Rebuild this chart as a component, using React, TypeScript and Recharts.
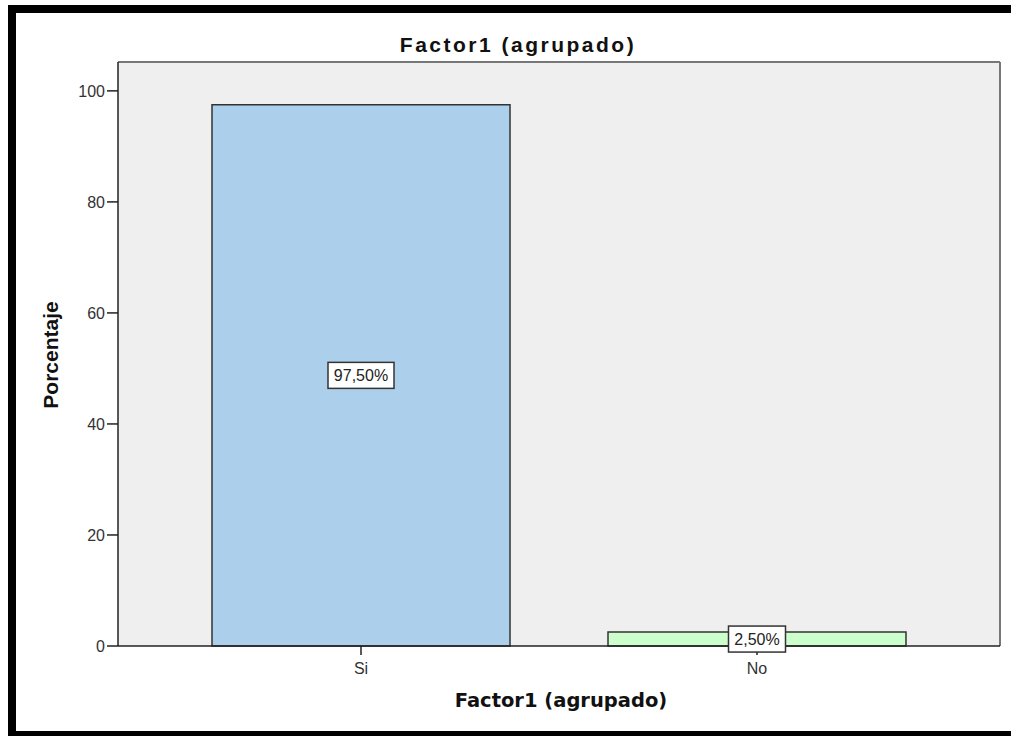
import { Bar, BarChart, CartesianGrid, Cell, LabelList, XAxis, YAxis } from "recharts"

const categories = ["Si", "No"]
const percentages = [97.5, 2.5]
const valueLabels = ["97,50%", "2,50%"]
const yTicks = [0, 20, 40, 60, 80, 100]

const data = categories.map((name, i) => ({
    name,
    value: percentages[i],
    label: valueLabels[i],
}))

const barFills = ["#accfec", "#ccffcc"]
const font = "'Liberation Sans', Arial, sans-serif"

const BoxLabel = (props: any) => {
    const { x, y, width, height, index } = props
    const text = valueLabels[index]
    const w = text.length * 9 + 12
    const h = 26
    const cx = x + width / 2
    const cy = y + height / 2
    return (
        <g>
            <rect x={cx - w / 2} y={cy - h / 2} width={w} height={h} fill="#fff" stroke="#333" strokeWidth={1.5} />
            <text x={cx} y={cy + 6} textAnchor="middle" fontFamily={font} fontSize={16} fill="#222">
                {text}
            </text>
        </g>
    )
}

const App = () => {
    return (
        <div style={{ position: "absolute", left: 0, top: 0, width: 1011, height: 736, background: "#fff" }}>
            <BarChart width={1011} height={736} data={data} margin={{ top: 62, right: 11, bottom: 50, left: 0 }}>
                <CartesianGrid horizontal={false} vertical={false} fill="#efefef" />
                {/* plot frame: top and right edges */}
                <CartesianGrid
                    stroke="#777"
                    strokeWidth={2}
                    horizontalCoordinatesGenerator={({ offset }: any) => [offset.top]}
                    verticalCoordinatesGenerator={({ offset }: any) => [offset.left + offset.width]}
                />
                <XAxis
                    dataKey="name"
                    height={40}
                    padding={{ left: 45, right: 45 }}
                    tickSize={9}
                    tickMargin={8}
                    tick={{ fontFamily: font, fontSize: 16, fill: "#333" }}
                    axisLine={{ stroke: "#222", strokeWidth: 1.5 }}
                    tickLine={{ stroke: "#222", strokeWidth: 1.5 }}
                />
                <YAxis
                    width={118}
                    domain={[0, 105.2]}
                    ticks={yTicks}
                    tickSize={11}
                    tickMargin={2}
                    tick={{ fontFamily: font, fontSize: 16, fill: "#333" }}
                    axisLine={{ stroke: "#222", strokeWidth: 1.5 }}
                    tickLine={{ stroke: "#222", strokeWidth: 1.5 }}
                />
                <Bar dataKey="value" barSize={298} stroke="#333" strokeWidth={1.5} isAnimationActive={false}>
                    {data.map((d, i) => (
                        <Cell key={d.name} fill={barFills[i]} />
                    ))}
                    <LabelList dataKey="label" content={BoxLabel} />
                </Bar>
            </BarChart>
            <svg width={1011} height={736} style={{ position: "absolute", left: 0, top: 0, pointerEvents: "none" }}>
                <text x={518} y={52} textAnchor="middle" fontFamily={font} fontWeight="bold" fontSize={21} letterSpacing={2.5} fill="#111">
                    Factor1 (agrupado)
                </text>
                <text x={561} y={707} textAnchor="middle" fontFamily="'DejaVu Sans', Verdana, sans-serif" fontWeight="bold" fontSize={19.5} fill="#111">
                    Factor1 (agrupado)
                </text>
                <text transform="translate(58,355) rotate(-90)" textAnchor="middle" fontFamily={font} fontWeight="bold" fontSize={21} fill="#111">
                    Porcentaje
                </text>
            </svg>
            <div style={{ position: "absolute", left: 8, top: 5, width: 1003, height: 8, background: "#000" }} />
            <div style={{ position: "absolute", left: 8, top: 5, width: 8, height: 731, background: "#000" }} />
            <div style={{ position: "absolute", left: 8, top: 731, width: 1003, height: 5, background: "#000" }} />
        </div>
    )
}

export default App
